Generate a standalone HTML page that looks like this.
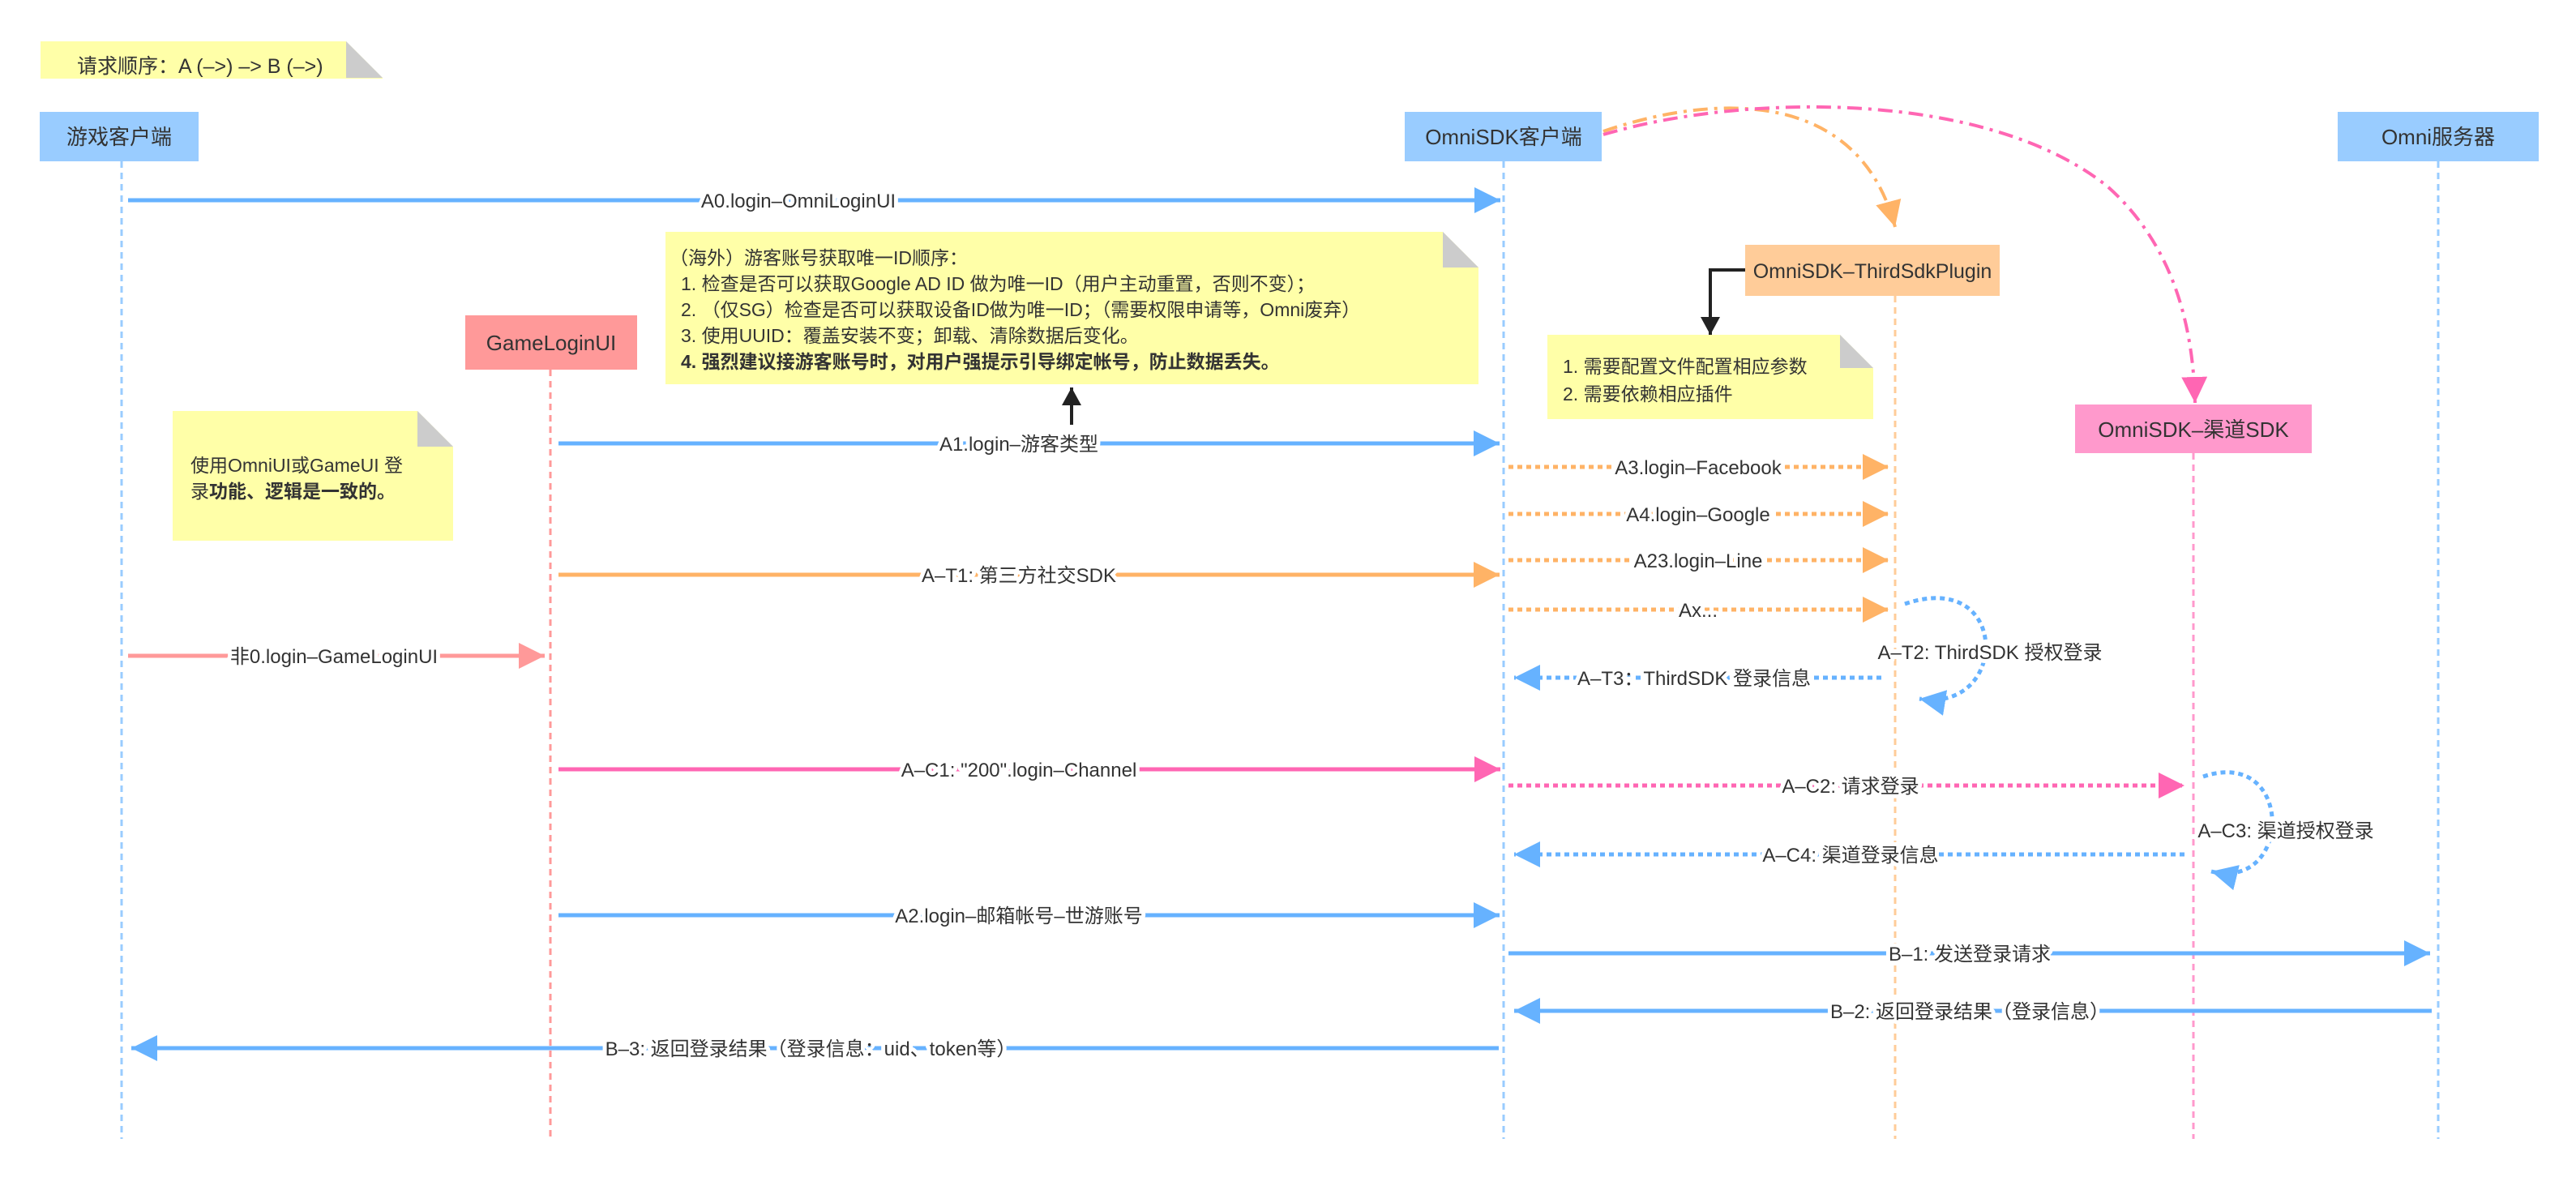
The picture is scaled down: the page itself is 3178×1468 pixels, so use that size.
<!DOCTYPE html>
<html><head><meta charset="utf-8"><style>
html,body{margin:0;padding:0;background:#fff;}
svg{display:block;}
text{font-family:"Liberation Sans","Noto Sans CJK SC",sans-serif;fill:#333;}
.lb{font-size:24px;paint-order:stroke;stroke:#fff;stroke-width:10px;stroke-linejoin:round;}
.hd{font-size:26px;}
.nt{font-size:23px;}
</style></head><body>
<svg width="3178" height="1468" viewBox="0 0 3178 1468" xmlns="http://www.w3.org/2000/svg">
<defs>
<marker id="mb" markerUnits="userSpaceOnUse" markerWidth="34" markerHeight="34" refX="32" refY="16" orient="auto"><path d="M0,0 L32,16 L0,32 z" fill="#66b2ff"/></marker>
<marker id="mo" markerUnits="userSpaceOnUse" markerWidth="34" markerHeight="34" refX="32" refY="16" orient="auto"><path d="M0,0 L32,16 L0,32 z" fill="#ffb366"/></marker>
<marker id="mp" markerUnits="userSpaceOnUse" markerWidth="34" markerHeight="34" refX="32" refY="16" orient="auto"><path d="M0,0 L32,16 L0,32 z" fill="#ff66b3"/></marker>
<marker id="mr" markerUnits="userSpaceOnUse" markerWidth="34" markerHeight="34" refX="32" refY="16" orient="auto"><path d="M0,0 L32,16 L0,32 z" fill="#ff9999"/></marker>
<marker id="mk" markerUnits="userSpaceOnUse" markerWidth="24" markerHeight="34" refX="22" refY="12" orient="auto"><path d="M0,0 L22,12 L0,24 z" fill="#222"/></marker>
</defs>

<path d="M50,51 H427 L472,96 V97 H50 Z" fill="#ffffa8"/>
<path d="M427,51 L472,96 H427 Z" fill="#cccccc"/>
<text class="hd" x="95" y="90" style="font-size:25px">请求顺序：A (–&gt;) –&gt; B (–&gt;)</text>

<g stroke-width="3" stroke-dasharray="8 6" fill="none">
<line x1="150" y1="199" x2="150" y2="1405" stroke="#99ccff"/>
<line x1="679" y1="456" x2="679" y2="1405" stroke="#ff9999"/>
<line x1="1855" y1="199" x2="1855" y2="1405" stroke="#99ccff"/>
<line x1="2338" y1="365" x2="2338" y2="1405" stroke="#ffcc99"/>
<line x1="2706" y1="559" x2="2706" y2="1405" stroke="#ff99cc"/>
<line x1="3008" y1="199" x2="3008" y2="1405" stroke="#99ccff"/>
</g>

<rect x="49" y="138" width="196" height="61" fill="#99ccff"/>
<text class="hd" x="147" y="178" text-anchor="middle">游戏客户端</text>
<rect x="1733" y="138" width="243" height="61" fill="#99ccff"/>
<text class="hd" x="1855" y="178" text-anchor="middle">OmniSDK客户端</text>
<rect x="2884" y="138" width="248" height="61" fill="#99ccff"/>
<text class="hd" x="3008" y="178" text-anchor="middle">Omni服务器</text>
<rect x="574" y="389" width="212" height="67" fill="#ff9999"/>
<text class="hd" x="680" y="432" text-anchor="middle">GameLoginUI</text>
<rect x="2153" y="302" width="314" height="63" fill="#ffcc99"/>
<text class="hd" x="2310" y="343" text-anchor="middle" style="font-size:25px">OmniSDK–ThirdSdkPlugin</text>
<rect x="2560" y="499" width="292" height="60" fill="#ff99cc"/>
<text class="hd" x="2706" y="539" text-anchor="middle">OmniSDK–渠道SDK</text>

<path d="M1978,162 C2100,120 2290,100 2338,280" fill="none" stroke="#ffb366" stroke-width="4" stroke-dasharray="18 8 4 8" marker-end="url(#mo)"/>
<path d="M1978,166 C2150,115 2450,110 2600,230 C2690,310 2706,420 2708,497" fill="none" stroke="#ff66b3" stroke-width="4" stroke-dasharray="18 8 4 8" marker-end="url(#mp)"/>

<path d="M821,286 H1780 L1824,330 V474 H821 Z" fill="#ffffa8"/>
<path d="M1780,286 L1824,330 H1780 Z" fill="#cccccc"/>
<g class="nt">
<text x="826" y="326">（海外）游客账号获取唯一ID顺序：</text>
<text x="840" y="358">1. 检查是否可以获取Google AD ID 做为唯一ID（用户主动重置，否则不变）；</text>
<text x="840" y="390">2. （仅SG）检查是否可以获取设备ID做为唯一ID；（需要权限申请等，Omni废弃）</text>
<text x="840" y="422">3. 使用UUID：覆盖安装不变；卸载、清除数据后变化。</text>
<text x="840" y="454" font-weight="bold">4. 强烈建议接游客账号时，对用户强提示引导绑定帐号，防止数据丢失。</text>
</g>
<line x1="1322" y1="524" x2="1322" y2="478" stroke="#222" stroke-width="4" marker-end="url(#mk)"/>

<path d="M213,507 H515 L559,551 V667 H213 Z" fill="#ffffa8"/>
<path d="M515,507 L559,551 H515 Z" fill="#cccccc"/>
<text class="nt" x="235" y="582">使用OmniUI或GameUI 登</text>
<text class="nt" x="235" y="614">录<tspan font-weight="bold">功能、逻辑是一致的。</tspan></text>

<path d="M1909,413 H2270 L2311,454 V517 H1909 Z" fill="#ffffa8"/>
<path d="M2270,413 L2311,454 H2270 Z" fill="#cccccc"/>
<text class="nt" x="1928" y="460">1. 需要配置文件配置相应参数</text>
<text class="nt" x="1928" y="494">2. 需要依赖相应插件</text>
<path d="M2153,333 H2110 V413" fill="none" stroke="#222" stroke-width="4" marker-end="url(#mk)"/>

<g fill="none" stroke-width="5">
<line x1="158" y1="247" x2="1851" y2="247" stroke="#66b2ff" marker-end="url(#mb)"/>
<line x1="689" y1="547" x2="1850" y2="547" stroke="#66b2ff" marker-end="url(#mb)"/>
<line x1="689" y1="709" x2="1850" y2="709" stroke="#ffb366" marker-end="url(#mo)"/>
<line x1="158" y1="809" x2="672" y2="809" stroke="#ff9999" marker-end="url(#mr)"/>
<line x1="689" y1="949" x2="1851" y2="949" stroke="#ff66b3" marker-end="url(#mp)"/>
<line x1="689" y1="1129" x2="1850" y2="1129" stroke="#66b2ff" marker-end="url(#mb)"/>
<line x1="1861" y1="1176" x2="2998" y2="1176" stroke="#66b2ff" marker-end="url(#mb)"/>
<line x1="3000" y1="1247" x2="1868" y2="1247" stroke="#66b2ff" marker-end="url(#mb)"/>
<line x1="1849" y1="1293" x2="162" y2="1293" stroke="#66b2ff" marker-end="url(#mb)"/>
</g>
<g fill="none" stroke-width="5" stroke-dasharray="6 5">
<line x1="1861" y1="576" x2="2330" y2="576" stroke="#ffb366" marker-end="url(#mo)"/>
<line x1="1861" y1="634" x2="2330" y2="634" stroke="#ffb366" marker-end="url(#mo)"/>
<line x1="1861" y1="691" x2="2330" y2="691" stroke="#ffb366" marker-end="url(#mo)"/>
<line x1="1861" y1="752" x2="2330" y2="752" stroke="#ffb366" marker-end="url(#mo)"/>
<line x1="2321" y1="836" x2="1868" y2="836" stroke="#66b2ff" marker-end="url(#mb)"/>
<line x1="1861" y1="969" x2="2695" y2="969" stroke="#ff66b3" marker-end="url(#mp)"/>
<line x1="2695" y1="1054" x2="1868" y2="1054" stroke="#66b2ff" marker-end="url(#mb)"/>
<path d="M2350,745 C2480,700 2480,880 2368,862" stroke="#66b2ff" marker-end="url(#mb)"/>
<path d="M2718,958 C2830,920 2830,1100 2728,1075" stroke="#66b2ff" marker-end="url(#mb)"/>
</g>

<g class="lb" text-anchor="middle">
<text x="985" y="256">A0.login–OmniLoginUI</text>
<text x="1257" y="556">A1.login–游客类型</text>
<text x="1257" y="718">A–T1: 第三方社交SDK</text>
<text x="412" y="818">非0.login–GameLoginUI</text>
<text x="1257" y="958">A–C1: "200".login–Channel</text>
<text x="1257" y="1138">A2.login–邮箱帐号–世游账号</text>
<text x="2095" y="585">A3.login–Facebook</text>
<text x="2095" y="643">A4.login–Google</text>
<text x="2095" y="700">A23.login–Line</text>
<text x="2095" y="761">Ax...</text>
<text x="2455" y="813">A–T2: ThirdSDK 授权登录</text>
<text x="2090" y="845">A–T3：ThirdSDK 登录信息</text>
<text x="2283" y="978">A–C2: 请求登录</text>
<text x="2820" y="1033">A–C3: 渠道授权登录</text>
<text x="2283" y="1063">A–C4: 渠道登录信息</text>
<text x="2430" y="1185">B–1: 发送登录请求</text>
<text x="2430" y="1256">B–2: 返回登录结果（登录信息）</text>
<text x="1000" y="1302">B–3: 返回登录结果（登录信息：uid、token等）</text>
</g>
</svg>
</body></html>
